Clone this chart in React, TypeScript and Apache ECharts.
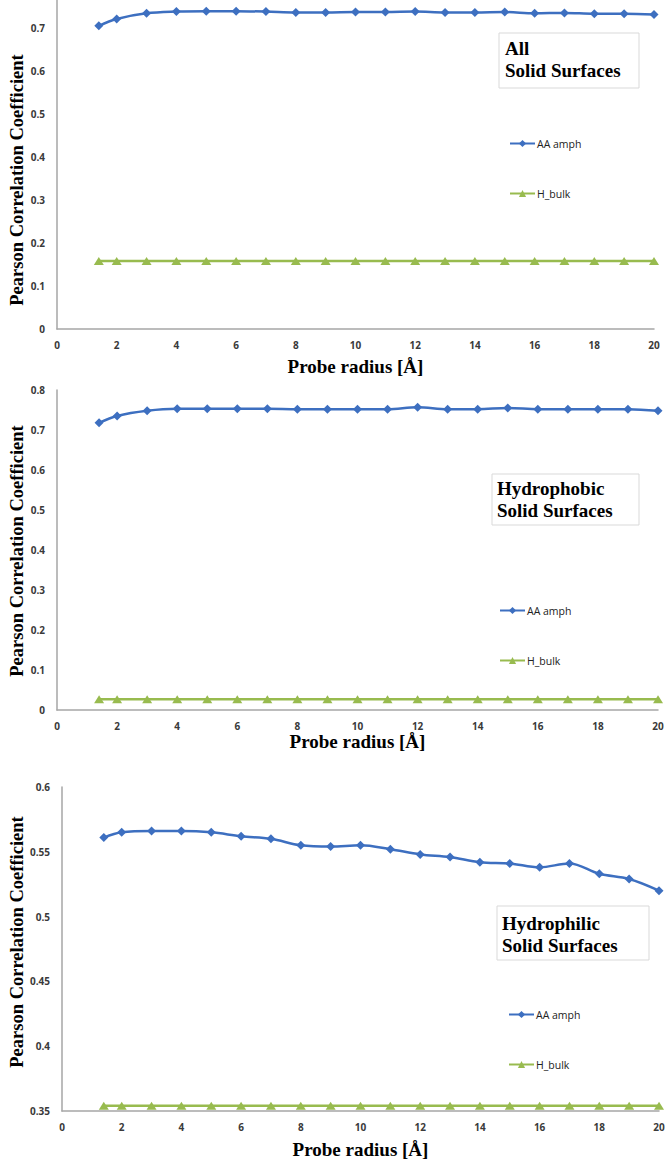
import React, { useEffect, useRef } from "react";
import * as echarts from "echarts";

const radii = [1.4, 2, 3, 4, 5, 6, 7, 8, 9, 10, 11, 12, 13, 14, 15, 16, 17, 18, 19, 20];
const xTicks = [0, 2, 4, 6, 8, 10, 12, 14, 16, 18, 20];

const allAA = [0.705, 0.721, 0.734, 0.738, 0.739, 0.739, 0.738, 0.736, 0.736, 0.737, 0.737, 0.738, 0.736, 0.736, 0.737, 0.734, 0.735, 0.733, 0.733, 0.731];
const allHB = [0.158, 0.158, 0.158, 0.158, 0.158, 0.158, 0.158, 0.158, 0.158, 0.158, 0.158, 0.158, 0.158, 0.158, 0.158, 0.158, 0.158, 0.158, 0.158, 0.158];

const phobAA = [0.718, 0.735, 0.748, 0.753, 0.753, 0.753, 0.753, 0.752, 0.752, 0.752, 0.752, 0.757, 0.752, 0.752, 0.755, 0.752, 0.752, 0.752, 0.752, 0.748];
const phobHB = [0.027, 0.027, 0.027, 0.027, 0.027, 0.027, 0.027, 0.027, 0.027, 0.027, 0.027, 0.027, 0.027, 0.027, 0.027, 0.027, 0.027, 0.027, 0.027, 0.027];

const philAA = [0.561, 0.565, 0.566, 0.566, 0.565, 0.562, 0.56, 0.555, 0.554, 0.555, 0.552, 0.548, 0.546, 0.542, 0.541, 0.538, 0.541, 0.533, 0.529, 0.52];
const philHB = [0.354, 0.354, 0.354, 0.354, 0.354, 0.354, 0.354, 0.354, 0.354, 0.354, 0.354, 0.354, 0.354, 0.354, 0.354, 0.354, 0.354, 0.354, 0.354, 0.354];

const seriesNames = ["AA amph", "H_bulk"];
const panelTitles = [["All", "Solid Surfaces"], ["Hydrophobic", "Solid Surfaces"], ["Hydrophilic", "Solid Surfaces"]];
const xTitle = "Probe radius [Å]";
const yTitle = "Pearson Correlation Coefficient";

const BLUE = "#3d6fc0";
const GREEN = "#98bb4f";
const AXIS = "#a6a6a6";
const LABEL = "#3a3a3a";

const pair = (xs: number[], ys: number[]) => xs.map((x, i) => [x, ys[i]]);

export default function App() {
  const ref = useRef<HTMLDivElement>(null);
  useEffect(() => {
    document.body.style.margin = "0";
    const chart = echarts.init(ref.current!, null, { renderer: "svg" });

    const grids = [
      { left: 57, right: 18, top: 0, height: 329 },
      { left: 57, right: 14, top: 390, height: 320 },
      { left: 62, right: 13, top: 787, height: 324 },
    ];
    const yCfg = [
      { min: 0, max: 0.765, interval: 0.1 },
      { min: 0, max: 0.8, interval: 0.1 },
      { min: 0.35, max: 0.6, interval: 0.05 },
    ];
    const showMax = [false, true, true];
    const nameGaps = [28, 21, 29];
    const aaData = [allAA, phobAA, philAA];
    const hbData = [allHB, phobHB, philHB];

    const labelStyle = { color: LABEL, fontSize: 10, fontWeight: "bold" as any, fontFamily: "Open Sans" };

    const xAxis = grids.map((_, i) => ({
      type: "value",
      gridIndex: i,
      min: xTicks[0],
      max: xTicks[xTicks.length - 1],
      interval: 2,
      axisLine: { show: true, lineStyle: { color: AXIS, width: 1.5 } },
      axisTick: { show: false },
      splitLine: { show: false },
      axisLabel: { ...labelStyle, margin: 11 },
      name: xTitle,
      nameLocation: "middle",
      nameGap: nameGaps[i],
      nameTextStyle: { fontFamily: "Liberation Serif", fontWeight: "bold", fontSize: 19, color: "#000" },
    }));
    const yAxis = grids.map((_, i) => ({
      type: "value",
      gridIndex: i,
      ...yCfg[i],
      axisLine: { show: true, lineStyle: { color: AXIS, width: 1.5 } },
      axisTick: { show: false },
      splitLine: { show: false },
      axisLabel: { ...labelStyle, margin: 12, showMaxLabel: showMax[i] },
    }));

    const series: any[] = [];
    grids.forEach((_, i) => {
      series.push({
        name: seriesNames[0],
        type: "line",
        xAxisIndex: i,
        yAxisIndex: i,
        data: pair(radii, aaData[i]),
        smooth: 0.35,
        symbol: "diamond",
        symbolSize: [9, 9],
        lineStyle: { color: BLUE, width: 2.5 },
        itemStyle: { color: BLUE },
      });
      series.push({
        name: seriesNames[1],
        type: "line",
        xAxisIndex: i,
        yAxisIndex: i,
        data: pair(radii, hbData[i]),
        smooth: 0.35,
        symbol: "triangle",
        symbolSize: [10, 8],
        lineStyle: { color: GREEN, width: 2.5 },
        itemStyle: { color: GREEN },
      });
    });

    const legendPos = [
      { left: 509, top: 138 },
      { left: 499, top: 605 },
      { left: 508, top: 1009 },
    ];
    const legend = legendPos.map((p) => ({
      ...p,
      padding: 0,
      orient: "vertical",
      data: seriesNames,
      itemWidth: 25,
      itemHeight: 9,
      itemGap: 39,
      textStyle: { fontFamily: "Open Sans", fontSize: 10.5, color: "#222", padding: [0, 0, 0, -3] },
      selectedMode: false,
    }));

    const boxes = [
      { x: 499, y: 33, w: 140, h: 55, tx: 505, ty: 48 },
      { x: 492, y: 474, w: 147, h: 51, tx: 497, ty: 488 },
      { x: 497, y: 906, w: 152, h: 54, tx: 502, ty: 923 },
    ];
    const yTitleCenters = [180, 551, 942];

    const graphic: any[] = [];
    boxes.forEach((b, i) => {
      graphic.push({
        type: "rect",
        shape: { x: b.x, y: b.y, width: b.w, height: b.h },
        style: { fill: "#fff", stroke: "#d9d9d9", lineWidth: 1 },
        z: 10,
      });
      panelTitles[i].forEach((t, j) => {
        graphic.push({
          type: "text",
          x: b.tx,
          y: b.ty + j * 22,
          style: {
            text: t,
            fontFamily: "Liberation Serif",
            fontWeight: "bold",
            fontSize: 19,
            fill: "#000",
            textAlign: "left",
            textVerticalAlign: "middle",
          },
          z: 11,
        });
      });
    });
    yTitleCenters.forEach((cy) => {
      graphic.push({
        type: "text",
        x: 17,
        y: cy,
        rotation: Math.PI / 2,
        style: {
          text: yTitle,
          fontFamily: "Liberation Serif",
          fontWeight: "bold",
          fontSize: 18.5,
          fill: "#000",
          textAlign: "center",
          textVerticalAlign: "middle",
        },
      });
    });

    chart.setOption({
      animation: false,
      backgroundColor: "#fff",
      grid: grids,
      xAxis,
      yAxis,
      series,
      legend,
      graphic,
    });
    return () => chart.dispose();
  }, []);
  return <div ref={ref} style={{ width: 672, height: 1165 }} />;
}
